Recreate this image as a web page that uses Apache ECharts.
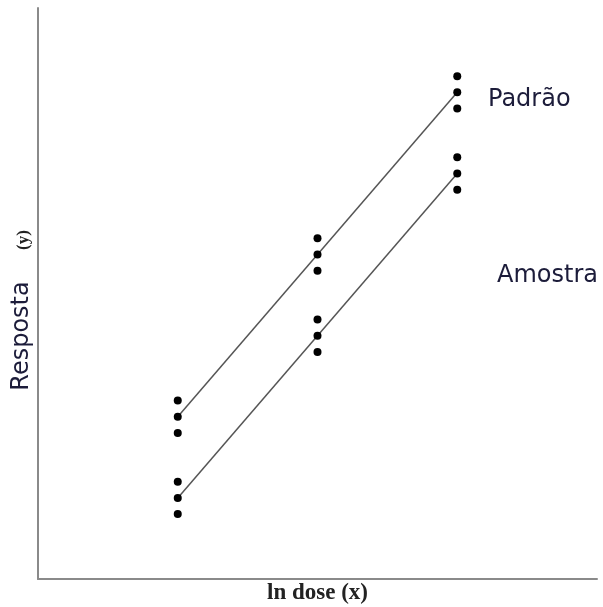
<!DOCTYPE html>
<html>
<head>
<meta charset="utf-8">
<script src="https://cdn.jsdelivr.net/npm/echarts@6/dist/echarts.min.js"></script>
<style>html,body{margin:0;padding:0;background:#fff;}#c{width:603px;height:607px;}</style>
</head>
<body>
<div id="c"></div>
<script>
// ln dose levels
const doses = [1, 2, 3];
// replicate responses at each dose
const padraoPoints = [[1, 11], [1, 10], [1, 9], [2, 21], [2, 20], [2, 19], [3, 31], [3, 30], [3, 29]];
const amostraPoints = [[1, 6], [1, 5], [1, 4], [2, 16], [2, 15], [2, 14], [3, 26], [3, 25], [3, 24]];
// fitted lines
const padraoLine = [[1, 10], [3, 30]];
const amostraLine = [[1, 5], [3, 25]];
const seriesNames = ['Padrão', 'Amostra'];
const xLabel = 'ln dose (x)';
const yLabelMain = 'Resposta';
const yLabelVar = '(y)';

const chart = echarts.init(document.getElementById('c'), null, {renderer: 'canvas'});
const axisCommon = {
  axisTick: {show: false},
  axisLabel: {show: false},
  splitLine: {show: false},
  axisLine: {show: true, lineStyle: {color: '#8a8a8a', width: 2}}
};
const labelColor = '#1c1c3a';
chart.setOption({
  animation: false,
  backgroundColor: '#fff',
  grid: {left: 38, right: 6, top: 8, bottom: 28, containLabel: false, outerBoundsMode: 'none'},
  xAxis: Object.assign({type: 'value', min: 0, max: 4,
    name: xLabel, nameLocation: 'middle', nameGap: 3,
    nameTextStyle: {fontFamily: 'Liberation Serif', fontWeight: 'bold', fontSize: 23, color: '#222'}
  }, axisCommon),
  yAxis: Object.assign({type: 'value', min: 0, max: 35.2}, axisCommon),
  graphic: [
    {type: 'text', x: 488, y: 100, style: {text: seriesNames[0], font: '24px "DejaVu Sans"', fill: labelColor, verticalAlign: 'middle'}},
    {type: 'text', x: 497, y: 276, style: {text: seriesNames[1], font: '24px "DejaVu Sans"', fill: labelColor, verticalAlign: 'middle'}},
    {type: 'text', x: 22, y: 336, rotation: Math.PI / 2,
      style: {text: yLabelMain, font: '24px "DejaVu Sans"', fill: labelColor, align: 'center', verticalAlign: 'middle'}},
    {type: 'text', x: 24, y: 240, rotation: Math.PI / 2,
      style: {text: yLabelVar, font: 'bold 17px "Liberation Serif"', fill: '#222', align: 'center', verticalAlign: 'middle'}}
  ],
  series: [
    {type: 'line', data: padraoLine, symbol: 'none', lineStyle: {color: '#555', width: 1.5}, z: 1},
    {type: 'line', data: amostraLine, symbol: 'none', lineStyle: {color: '#555', width: 1.5}, z: 1},
    {type: 'scatter', name: seriesNames[0], data: padraoPoints, symbolSize: 8, itemStyle: {color: '#000', opacity: 1}, z: 2},
    {type: 'scatter', name: seriesNames[1], data: amostraPoints, symbolSize: 8, itemStyle: {color: '#000', opacity: 1}, z: 2}
  ]
});
</script>
</body>
</html>
